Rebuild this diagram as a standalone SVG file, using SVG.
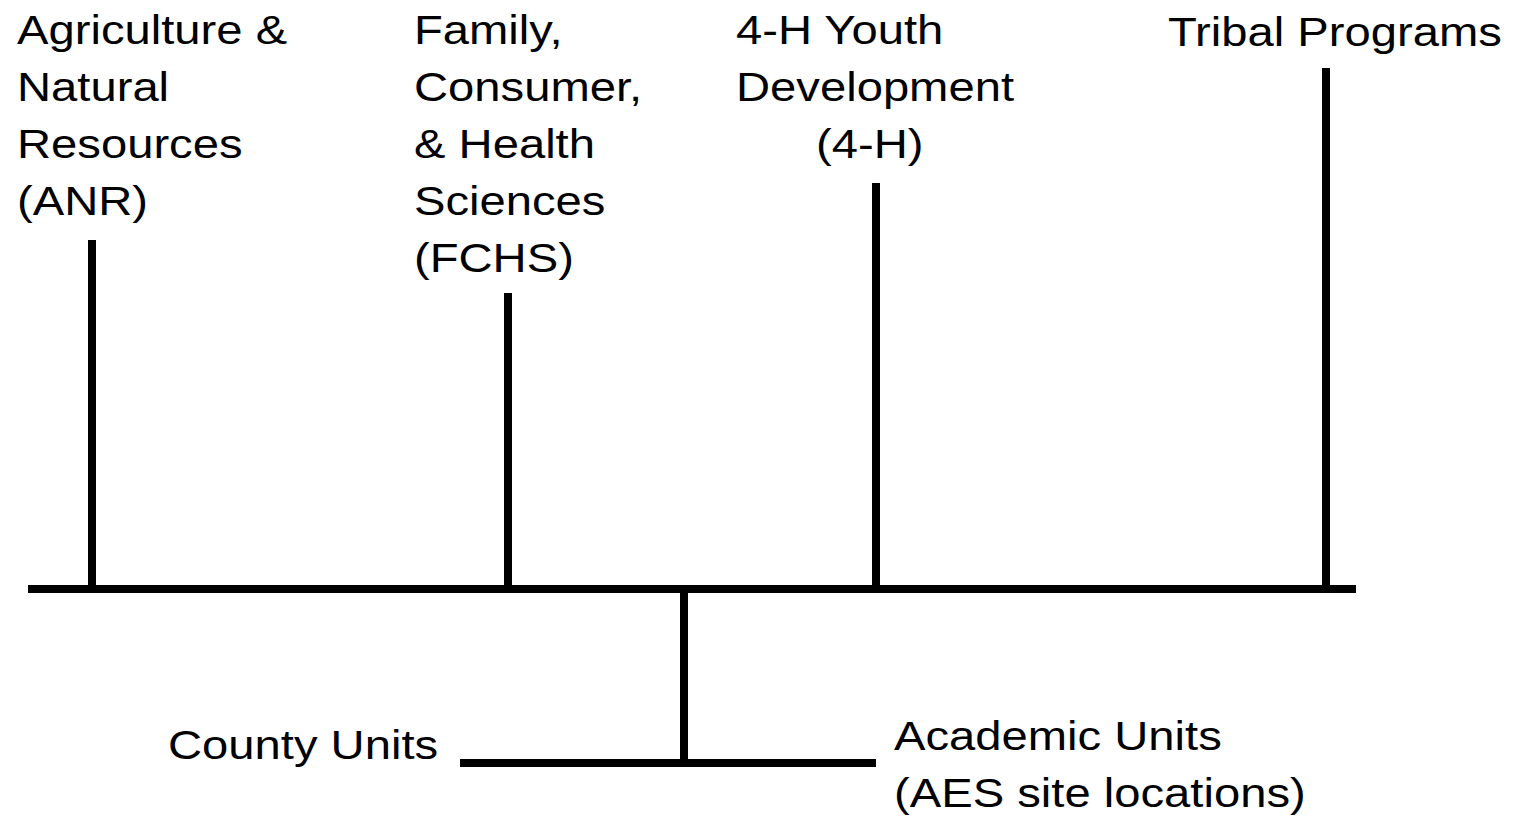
<svg xmlns="http://www.w3.org/2000/svg" width="1517" height="819" viewBox="0 0 1517 819">
<style>
.t{font-family:"Liberation Sans",Arial,sans-serif;font-size:40px;fill:#000}
.ln{stroke:#000;stroke-width:8;fill:none;stroke-linecap:butt}
</style>
<rect width="1517" height="819" fill="#fff"/>
<g id="connectors">
<line class="ln" x1="28" y1="589" x2="1356" y2="589"/>
<line class="ln" x1="92" y1="240" x2="92" y2="589"/>
<line class="ln" x1="508" y1="293" x2="508" y2="589"/>
<line class="ln" x1="876" y1="183" x2="876" y2="589"/>
<line class="ln" x1="1326" y1="68" x2="1326" y2="589"/>
<line class="ln" x1="684" y1="589" x2="684" y2="763"/>
<line class="ln" x1="460" y1="763" x2="876" y2="763"/>
</g>
<g id="anr">
<text class="t" transform="translate(17,0) scale(1.18,1)"><tspan x="0" y="44">Agriculture &amp;</tspan><tspan x="0" y="101">Natural</tspan><tspan x="0" y="158">Resources</tspan><tspan x="0" y="215">(ANR)</tspan></text>
</g>
<g id="fchs">
<text class="t" transform="translate(414,0) scale(1.18,1)"><tspan x="0" y="44">Family,</tspan><tspan x="0" y="101">Consumer,</tspan><tspan x="0" y="158">&amp; Health</tspan><tspan x="0" y="215">Sciences</tspan><tspan x="0" y="272">(FCHS)</tspan></text>
</g>
<g id="youth">
<text class="t" transform="translate(736,0) scale(1.18,1)"><tspan x="0" y="44">4-H Youth</tspan><tspan x="0" y="101">Development</tspan></text>
<text class="t" transform="translate(816,0) scale(1.18,1)"><tspan x="0" y="158">(4-H)</tspan></text>
</g>
<g id="tribal">
<text class="t" transform="translate(1168,0) scale(1.18,1)"><tspan x="0" y="46">Tribal Programs</tspan></text>
</g>
<g id="county">
<text class="t" transform="translate(168,0) scale(1.18,1)"><tspan x="0" y="759">County Units</tspan></text>
</g>
<g id="academic">
<text class="t" transform="translate(894,0) scale(1.18,1)"><tspan x="0" y="750">Academic Units</tspan><tspan x="0" y="807">(AES site locations)</tspan></text>
</g>
</svg>
